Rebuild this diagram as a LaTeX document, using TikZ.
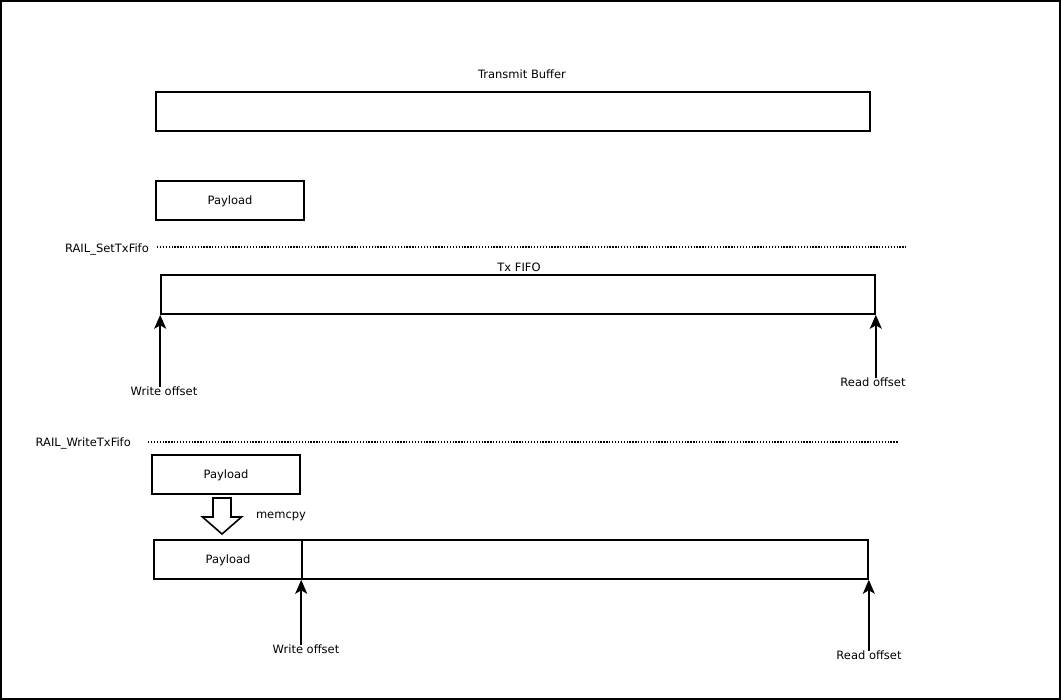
\documentclass[tikz,border=0pt]{standalone}
\usepackage{fontspec}
\setmainfont{DejaVu Sans}
\usetikzlibrary{arrows.meta,calc,positioning}

\begin{document}
\begin{tikzpicture}[
  x=1pt, y=-1pt,
  every node/.style={font=\fontsize{11.5}{13}\selectfont, inner sep=0pt},
  buf/.style={draw, line width=1.6pt, minimum height=39pt, text depth=1pt},
  sep/.style={line width=1.3pt, dash pattern=on 1.3pt off 1.6pt},
  ptr/.style={line width=1.6pt, -{Stealth[length=14pt, width=12pt, inset=3.5pt]}}
]
% frame
\draw[line width=2pt] (1,1) rectangle (1060,699);

% transmit buffer
\node (txtitle) at (522,74.5) {Transmit Buffer};
\node[buf, minimum width=714pt] (txbuf) at (513,111.5) {};
\node[buf, minimum width=148pt] (pay1) at (230,200.5) {Payload};

% RAIL_SetTxFifo
\node[anchor=east] (set) at (149,249.5) {RAIL\_SetTxFifo};
\coordinate (setend) at (906,247);
\draw[sep] (157,247) -- (setend);
\node (fifotitle) at (519,267.5) {Tx FIFO};
\node[buf, minimum width=714pt] (fifo) at (518,294.5) {};
\node (wr1) at (164,391.5) {Write offset};
\node (rd1) at (873,382.5) {Read offset};
\draw[ptr] (wr1.north -| fifo.south west) -- (fifo.south west);
\draw[ptr] (rd1.north -| fifo.south east) -- (fifo.south east);

% RAIL_WriteTxFifo
\node[anchor=east] (wrt) at (131,443.5) {RAIL\_WriteTxFifo};
\coordinate (wrtend) at (898,442);
\draw[sep] (148,442) -- (wrtend);
\node[buf, minimum width=148pt] (pay2) at (226,474.5) {Payload};
\coordinate (cp) at (222,498);
\draw[line width=1.6pt, line join=miter]
  ($(cp)+(-9,0)$) -- ($(cp)+(9,0)$) -- ($(cp)+(9,19)$) -- ($(cp)+(19.5,19)$)
  -- ($(cp)+(0,36)$) -- ($(cp)+(-19.5,19)$) -- ($(cp)+(-9,19)$) -- cycle;
\node (memcpy) at (281,516.5) {memcpy};
\node[buf, minimum width=148pt] (pay3) at (228,559.5) {Payload};
\node[buf, minimum width=566pt] (rest) at (585,559.5) {};
\node (wr2) at (306,649.5) {Write offset};
\node (rd2) at (869,655.5) {Read offset};
\draw[ptr] (wr2.north -| rest.south west) -- (rest.south west);
\draw[ptr] (rd2.north -| rest.south east) -- (rest.south east);
\end{tikzpicture}
\end{document}
